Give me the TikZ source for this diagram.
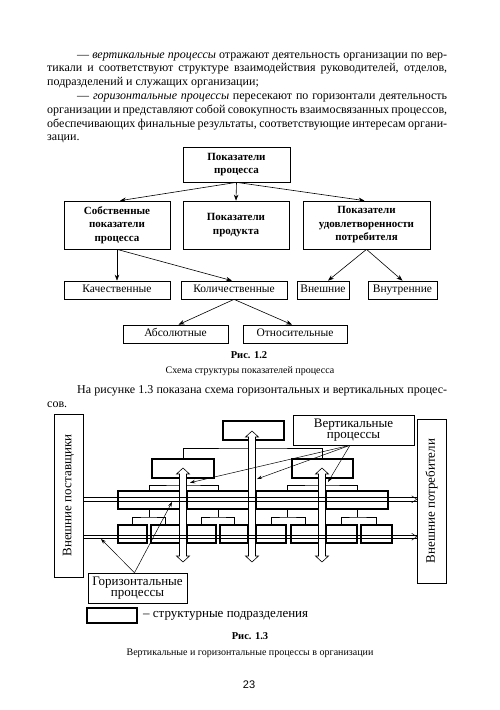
\documentclass[tikz,border=0pt]{standalone}
\usepackage{fontspec}
\setmainfont{Liberation Serif}
\newfontfamily\pgnumfont{Liberation Sans}
\usetikzlibrary{arrows.meta,calc}
\newcommand\vblock[3]{%
  \draw[line width=0.6pt, fill=white] (#1-3.5,#2+6) -- (#1-6.5,#2+6) -- (#1,#2) -- (#1+6.5,#2+6) -- (#1+3.5,#2+6) -- (#1+3.5,#3-6) -- (#1+6.5,#3-6) -- (#1,#3) -- (#1-6.5,#3-6) -- (#1-3.5,#3-6) -- cycle;}
\begin{document}
\begin{tikzpicture}[x=1pt,y=-1pt,
  body/.style={anchor=base west, inner sep=0pt, font=\fontsize{12}{13.8}\selectfont},
  bx/.style={draw, line width=0.7pt, inner sep=0pt, align=center},
  bbx/.style={bx, font=\bfseries\fontsize{11}{13.5}\selectfont},
  nbx/.style={bx, font=\fontsize{11.5}{13.5}\selectfont, text height=8pt, text depth=2.5pt},
  thk/.style={draw, line width=1.6pt, inner sep=0pt},
  thn/.style={line width=0.5pt},
  arr/.style={line width=0.6pt, -{Stealth[length=6pt,width=4.5pt]}},
  carr/.style={line width=0.5pt, -{Stealth[length=5pt,width=3.5pt]}},
  side/.style={draw, line width=0.6pt, inner sep=0pt},
  call/.style={draw, line width=0.6pt, inner sep=0pt, align=center, font=\fontsize{13}{11.7}\selectfont},
  capb/.style={font=\bfseries\fontsize{10.5}{12}\selectfont},
  capn/.style={font=\fontsize{10}{12}\selectfont}]
\useasboundingbox[fill=white] (0,0) rectangle (500,710);

% ---------- text ----------
\node[body] (t1) at (77,58) {\makebox[370pt][s]{— \textit{вертикальные процессы} отражают деятельность организации по вер-}};
\node[body] (t2) at (47,71.8) {\makebox[400pt][s]{тикали и соответствуют структуре взаимодействия руководителей, отделов,}};
\node[body] (t3) at (47,85.6) {подразделений и служащих организации;};
\node[body] (t4) at (77,99.4) {\makebox[370pt][s]{— \textit{горизонтальные процессы} пересекают по горизонтали деятельность}};
\node[body] (t5) at (47,113.2) {\makebox[400pt][s]{организации и представляют собой совокупность взаимосвязанных процессов,}};
\node[body] (t6) at (47,127) {\makebox[400pt][s]{обеспечивающих финальные результаты, соответствующие интересам органи-}};
\node[body] (t7) at (47,140.8) {зации.};

% ---------- fig 1.2 ----------
\node[bbx, minimum width=107pt, minimum height=35pt] (p) at (236.5,164.5) {Показатели\\процесса};
\node[bbx, minimum width=106pt, minimum height=48pt] (s1) at (117,225) {Собственные\\показатели\\процесса};
\node[bbx, minimum width=106pt, minimum height=48pt] (s2) at (236,225) {Показатели\\продукта};
\node[bbx, minimum width=127pt, minimum height=48pt] (s3) at (366.5,225) {Показатели\\удовлетворенности\\потребителя};
\node[nbx, minimum width=106pt, minimum height=18pt] (k1) at (117,290) {Качественные};
\node[nbx, minimum width=106pt, minimum height=18pt] (k2) at (234,290) {Количественные};
\node[nbx, minimum width=52pt, minimum height=18pt] (k3) at (323,290) {Внешние};
\node[nbx, minimum width=69pt, minimum height=18pt] (k4) at (402.5,290) {Внутренние};
\node[nbx, minimum width=105pt, minimum height=18pt] (a1) at (175.5,334) {Абсолютные};
\node[nbx, minimum width=104pt, minimum height=18pt] (a2) at (295,334) {Относительные};

\draw[arr] (p.south) -- ($(s1.north)+(3,0)$);
\draw[arr] (p.south) -- (s2.north);
\draw[arr] (p.south) -- ($(s3.north)+(-2,0)$);
\draw[arr] (s1.south) -- (k1.north);
\draw[arr] (s1.south) -- ($(k2.north)+(-2,0)$);
\draw[arr] (s3.south) -- ($(k3.north)+(5,0)$);
\draw[arr] (s3.south) -- (k4.north);
\draw[arr] (k2.south) -- ($(a1.north)+(3,0)$);
\draw[arr] (k2.south) -- ($(a2.north)+(-3,0)$);

\node[capb] (c1) at (249,355) {Рис. 1.2};
\node[capn] (c2) at (250,371) {Схема структуры показателей процесса};

\node[body] (t8) at (77,393) {\makebox[370pt][s]{На рисунке 1.3 показана схема горизонтальных и вертикальных процес-}};
\node[body] (t9) at (47,407) {сов.};

% ---------- fig 1.3 ----------
\node[side, minimum width=29pt, minimum height=163pt] (lsup) at (68.5,495.5) {};
\node[rotate=90, font=\fontsize{13}{15}\selectfont] (lsupt) at (lsup.center) {Внешние поставщики};
\node[side, minimum width=29pt, minimum height=164pt] (rcon) at (431.5,501) {};
\node[rotate=90, font=\fontsize{13}{15}\selectfont] (rcont) at (rcon.center) {Внешние потребители};

% org boxes
\node[thk, minimum width=61pt, minimum height=19pt] (tb) at (253.5,430.5) {};
\node[thk, minimum width=62pt, minimum height=19pt] (L1) at (183,468.5) {};
\node[thk, minimum width=61pt, minimum height=19pt] (L2) at (322.5,468.5) {};
\node[thk, minimum width=62pt, minimum height=18pt] (A) at (149,500) {};
\node[thk, minimum width=62pt, minimum height=18pt] (B) at (218,500) {};
\node[thk, minimum width=63pt, minimum height=18pt] (C) at (287.5,500) {};
\node[thk, minimum width=62pt, minimum height=18pt] (D) at (357,500) {};
\node[thk, minimum width=29pt, minimum height=18pt] (a1b) at (132.5,534) {};
\node[thk, minimum width=29pt, minimum height=18pt] (a2b) at (165.5,534) {};
\node[thk, minimum width=29pt, minimum height=18pt] (b1b) at (201.5,534) {};
\node[thk, minimum width=28pt, minimum height=18pt] (b2b) at (234,534) {};
\node[thk, minimum width=30pt, minimum height=18pt] (c1b) at (271,534) {};
\node[thk, minimum width=28pt, minimum height=18pt] (c2b) at (305,534) {};
\node[thk, minimum width=31pt, minimum height=18pt] (d1b) at (341.5,534) {};
\node[thk, minimum width=31pt, minimum height=18pt] (d2b) at (376.5,534) {};

% brackets
\draw[thn] (L1.north) |- (253,448) -| (L2.north);
\draw[thn] (A.north) |- (183,485) -| (B.north);
\draw[thn] (C.north) |- (322,485) -| (D.north);
\draw[thn] (A.south) -- (149,517);
\draw[thn] (a1b.north) |- (149,517) -| (a2b.north);
\draw[thn] (B.south) -- (218,517);
\draw[thn] (b1b.north) |- (218,517) -| (b2b.north);
\draw[thn] (C.south) -- (287.5,517);
\draw[thn] (c1b.north) |- (287.5,517) -| (c2b.north);
\draw[thn] (D.south) -- (357,517);
\draw[thn] (d1b.north) |- (357,517) -| (d2b.north);

% vertical processes
\vblock{183}{468}{562}
\vblock{252}{431}{562}
\vblock{322}{468}{562}

% horizontal processes
\coordinate (h1a) at (0,497.5); \coordinate (h1b) at (0,501); \coordinate (h1m) at (0,499.25);
\coordinate (h2a) at (0,535); \coordinate (h2b) at (0,538.5); \coordinate (h2m) at (0,536.75);
\draw[thn] (lsup.east |- h1a) -- (rcon.west |- h1a);
\draw[thn] (lsup.east |- h1b) -- (rcon.west |- h1b);
\draw[thn] ($(rcon.west |- h1m)+(-5,-3.5)$) -- (rcon.west |- h1m) -- ($(rcon.west |- h1m)+(-5,3.5)$);
\draw[thn] (lsup.east |- h2a) -- (rcon.west |- h2a);
\draw[thn] (lsup.east |- h2b) -- (rcon.west |- h2b);
\draw[thn] ($(rcon.west |- h2m)+(-5,-3.5)$) -- (rcon.west |- h2m) -- ($(rcon.west |- h2m)+(-5,3.5)$);

% callouts
\node[call, minimum width=121pt, minimum height=30pt, fill=white] (vc) at (353.5,430) {Вертикальные\\процессы};
\coordinate (vt1) at (190,482.7);
\coordinate (vt2) at (257,479);
\coordinate (vt3) at (328,482);
\draw[carr] ($(vc.south)+(-3.5,0)$) -- (vt1);
\draw[carr] ($(vc.south)+(-3.5,0)$) -- (vt2);
\draw[carr] ($(vc.south)+(-3.5,0)$) -- (vt3);

\node[call, minimum width=99pt, minimum height=30pt, fill=white] (hc) at (137.5,588) {Горизонтальные\\процессы};
\coordinate (ht1) at (101,539);
\coordinate (ht2) at (172,502);
\draw[carr] ($(hc.north)+(-3,0)$) -- (ht1);
\draw[carr] ($(hc.north)+(-3,0)$) -- (ht2);

% legend
\node[thk, minimum width=50pt, minimum height=15pt] (leg) at (112,615.5) {};
\node[anchor=west, inner sep=0pt, font=\fontsize{13}{15}\selectfont] (legt) at (143,615.5) {– структурные подразделения};

\node[capb] (c3) at (250,636) {Рис. 1.3};
\node[capn] (c4) at (250,653) {Вертикальные и горизонтальные процессы в организации};

\node[font=\pgnumfont\fontsize{11}{13}\selectfont] (pg) at (249,685) {23};
\end{tikzpicture}
\end{document}
